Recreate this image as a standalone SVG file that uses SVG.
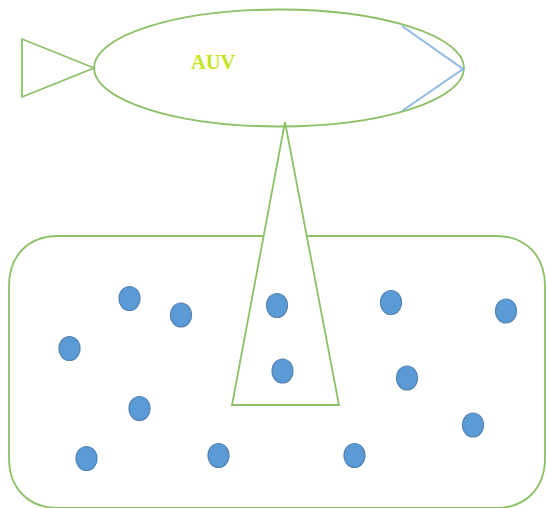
<svg xmlns="http://www.w3.org/2000/svg" width="546" height="508" viewBox="0 0 546 508">
<style>
.o{fill:none;stroke:#8cc168;stroke-width:1.8}
.b{fill:none;stroke:#8db9e6;stroke-width:2}
.d{fill:#5b9bd5;stroke:#5585b5;stroke-width:1.2}
text{font-family:"Liberation Serif",serif;font-weight:bold;font-size:20.500px;fill:#c4e61c}
</style>
<rect width="546" height="508" fill="#fff"/>
<g id="region"><path class="o" d="M263 236H58C28 236 9 256 9 286V458C9 488 28 508 58 508H496C526 508 545 488 545 458V286C545 256 526 236 496 236H307"/></g>
<g id="auv">
<ellipse class="o" cx="279" cy="68" rx="185" ry="58.500"/>
<path class="o" d="M94 68L22 39V97Z"/>
<path class="b" d="M402 26L463 69L402 111"/>
<text x="191" y="69">AUV</text>
</g>
<g id="beam"><path class="o" d="M285 122L339 405H232Z"/></g>
<g id="sensors">
<ellipse class="d" cx="129.500" cy="298.500" rx="10.500" ry="12"/>
<ellipse class="d" cx="181" cy="315" rx="10.500" ry="12"/>
<ellipse class="d" cx="69.500" cy="348.500" rx="10.500" ry="12"/>
<ellipse class="d" cx="139.500" cy="408.500" rx="10.500" ry="12"/>
<ellipse class="d" cx="86.500" cy="458.500" rx="10.500" ry="12"/>
<ellipse class="d" cx="218.500" cy="455.500" rx="10.500" ry="12"/>
<ellipse class="d" cx="277" cy="305.500" rx="10.500" ry="12"/>
<ellipse class="d" cx="282.500" cy="371" rx="10.500" ry="12"/>
<ellipse class="d" cx="391" cy="302.500" rx="10.500" ry="12"/>
<ellipse class="d" cx="407" cy="378" rx="10.500" ry="12"/>
<ellipse class="d" cx="506" cy="311" rx="10.500" ry="12"/>
<ellipse class="d" cx="473" cy="425" rx="10.500" ry="12"/>
<ellipse class="d" cx="354.500" cy="455.500" rx="10.500" ry="12"/>
</g>
</svg>
